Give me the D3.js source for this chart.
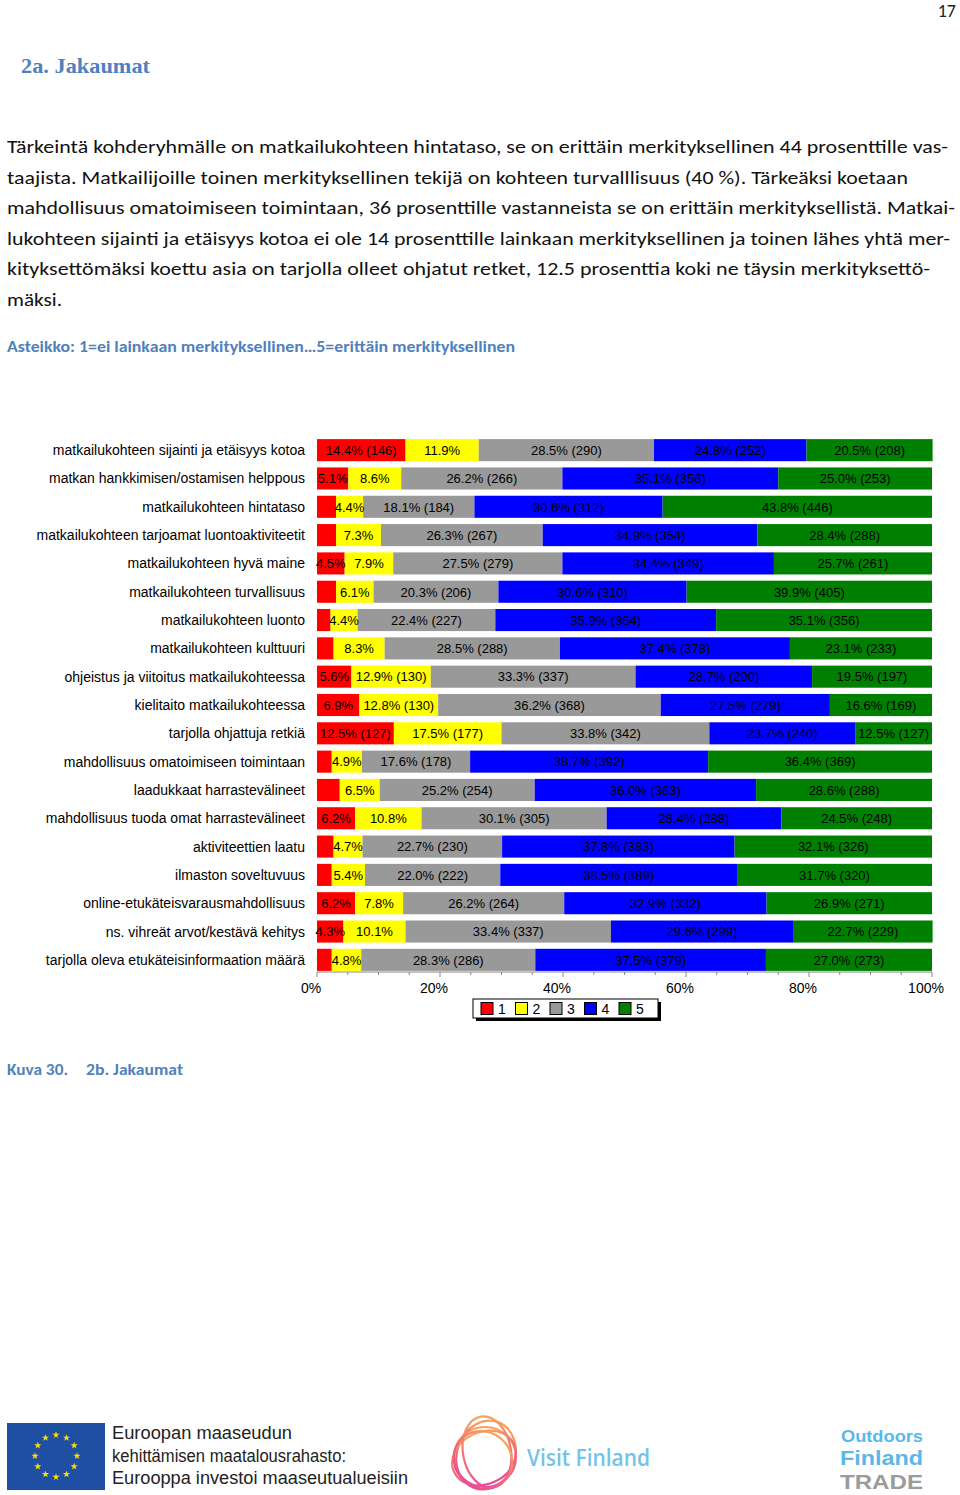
<!DOCTYPE html>
<html>
<head>
<meta charset="utf-8">
<script src="https://cdn.jsdelivr.net/npm/d3@7"></script>
<style>
  html, body { margin: 0; padding: 0; background: #fff; }
  svg { display: block; }
</style>
</head>
<body>
<svg id="page" width="960" height="1495"></svg>
<script>
// ---------------- DATA ----------------
const categories = [
  "matkailukohteen sijainti ja etäisyys kotoa",
  "matkan hankkimisen/ostamisen helppous",
  "matkailukohteen hintataso",
  "matkailukohteen tarjoamat luontoaktiviteetit",
  "matkailukohteen hyvä maine",
  "matkailukohteen turvallisuus",
  "matkailukohteen luonto",
  "matkailukohteen kulttuuri",
  "ohjeistus ja viitoitus matkailukohteessa",
  "kielitaito matkailukohteessa",
  "tarjolla ohjattuja retkiä",
  "mahdollisuus omatoimiseen toimintaan",
  "laadukkaat harrastevälineet",
  "mahdollisuus tuoda omat harrastevälineet",
  "aktiviteettien laatu",
  "ilmaston soveltuvuus",
  "online-etukäteisvarausmahdollisuus",
  "ns. vihreät arvot/kestävä kehitys",
  "tarjolla oleva etukäteisinformaation määrä"
];
const seriesNames = ["1", "2", "3", "4", "5"];
const pct1 = [14.4, 5.1, 3.1, 3.1, 4.5, 3.1, 2.2, 2.7, 5.6, 6.9, 12.5, 2.4, 3.7, 6.2, 2.7, 2.4, 6.2, 4.3, 2.4];
const pct2 = [11.9, 8.6, 4.4, 7.3, 7.9, 6.1, 4.4, 8.3, 12.9, 12.8, 17.5, 4.9, 6.5, 10.8, 4.7, 5.4, 7.8, 10.1, 4.8];
const pct3 = [28.5, 26.2, 18.1, 26.3, 27.5, 20.3, 22.4, 28.5, 33.3, 36.2, 33.8, 17.6, 25.2, 30.1, 22.7, 22.0, 26.2, 33.4, 28.3];
const pct4 = [24.8, 35.1, 30.6, 34.9, 34.4, 30.6, 35.9, 37.4, 28.7, 27.5, 23.7, 38.7, 36.0, 28.4, 37.8, 38.5, 32.9, 29.6, 37.5];
const pct5 = [20.5, 25.0, 43.8, 28.4, 25.7, 39.9, 35.1, 23.1, 19.5, 16.6, 12.5, 36.4, 28.6, 24.5, 32.1, 31.7, 26.9, 22.7, 27.0];
// counts shown in labels (null = not shown)
const cnt1 = [146, null, null, null, null, null, null, null, null, null, 127, null, null, null, null, null, null, null, null];
const cnt2 = [null, null, null, null, null, null, null, null, 130, 130, 177, null, null, null, null, null, null, null, null];
const cnt3 = [290, 266, 184, 267, 279, 206, 227, 288, 337, 368, 342, 178, 254, 305, 230, 222, 264, 337, 286];
const cnt4 = [252, 356, 312, 354, 349, 310, 364, 378, 290, 279, 240, 392, 363, 288, 383, 389, 332, 299, 379];
const cnt5 = [208, 253, 446, 288, 261, 405, 356, 233, 197, 169, 127, 369, 288, 248, 326, 320, 271, 229, 273];
const xTicks = [0, 20, 40, 60, 80, 100];
const colors = ["#ff0000", "#ffff00", "#999999", "#0000ff", "#008000"];

const paragraph = [
  "Tärkeintä kohderyhmälle on matkailukohteen hintataso, se on erittäin merkityksellinen 44 prosenttille vas-",
  "taajista. Matkailijoille toinen merkityksellinen tekijä on kohteen turvalllisuus (40 %). Tärkeäksi koetaan",
  "mahdollisuus omatoimiseen toimintaan, 36 prosenttille vastanneista se on erittäin merkityksellistä. Matkai-",
  "lukohteen sijainti ja etäisyys kotoa ei ole 14 prosenttille lainkaan merkityksellinen ja toinen lähes yhtä mer-",
  "kityksettömäksi koettu asia on tarjolla olleet ohjatut retket, 12.5 prosenttia koki ne täysin merkityksettö-",
  "mäksi."
];
const paraWidths = [941, 901, 948, 943, 923, 55];

// ---------------- DRAW ----------------
const svg = d3.select("#page");
const blue = "#4f81bd";

// page number
svg.append("text").attr("x", 956).attr("y", 17).attr("text-anchor", "end")
  .attr("font-family", "Carlito, Lato, sans-serif").attr("font-size", 18).attr("fill", "#222").text("17");

// heading
svg.append("text").attr("x", 21).attr("y", 73)
  .attr("font-family", "'Liberation Serif', serif").attr("font-weight", "bold")
  .attr("font-size", 21).attr("fill", blue)
  .attr("textLength", 129).attr("lengthAdjust", "spacingAndGlyphs").text("2a. Jakaumat");

// paragraph
svg.append("g").selectAll("text").data(paragraph).join("text")
  .attr("x", 7).attr("y", (d, i) => 153 + i * 30.5)
  .attr("font-family", "Carlito, Lato, sans-serif").attr("font-size", 19).attr("fill", "#111")
  .attr("textLength", (d, i) => paraWidths[i]).attr("lengthAdjust", "spacingAndGlyphs")
  .text(d => d);

svg.append("text").attr("x", 7).attr("y", 352)
  .attr("font-family", "Carlito, Lato, sans-serif").attr("font-weight", "bold")
  .attr("font-size", 15.5).attr("fill", blue)
  .attr("textLength", 508).attr("lengthAdjust", "spacingAndGlyphs")
  .text("Asteikko: 1=ei lainkaan merkityksellinen…5=erittäin merkityksellinen");

// chart
const pcts = [pct1, pct2, pct3, pct4, pct5];
const cnts = [cnt1, cnt2, cnt3, cnt4, cnt5];
const rows = categories.map((c, i) => {
  const r = { cat: c };
  seriesNames.forEach((s, k) => { r[s] = pcts[k][i]; });
  return r;
});
const stack = d3.stack().keys(seriesNames)(rows);

const x = d3.scaleLinear().domain([0, 100]).range([317, 932]);
const y = d3.scaleBand().domain(categories).range([436, 974]).paddingInner(0.22).paddingOuter(0.11);

const chart = svg.append("g");
stack.forEach((layer, k) => {
  const g = chart.append("g");
  g.selectAll("rect").data(layer).join("rect")
    .attr("x", d => x(d[0]))
    .attr("y", d => y(d.data.cat))
    .attr("width", d => x(d[1]) - x(d[0]))
    .attr("height", y.bandwidth())
    .attr("fill", colors[k]);
});
// labels
stack.forEach((layer, k) => {
  chart.append("g").selectAll("text").data(layer).join("text")
    .filter((d, i) => pcts[k][i] >= 4)
    .attr("x", d => (x(d[0]) + x(d[1])) / 2)
    .attr("y", d => y(d.data.cat) + y.bandwidth() / 2 + 4.8)
    .attr("text-anchor", "middle")
    .attr("font-family", "'Liberation Sans', Arial, sans-serif").attr("font-size", 13)
    .attr("fill", "#000")
    .text((d, i) => {
      const idx = categories.indexOf(d.data.cat);
      const p = pcts[k][idx].toFixed(1) + "%";
      const c = cnts[k][idx];
      return c == null ? p : p + " (" + c + ")";
    });
});

// category labels
chart.append("g").selectAll("text").data(categories).join("text")
  .attr("x", 305)
  .attr("y", d => y(d) + y.bandwidth() / 2 + 5)
  .attr("text-anchor", "end")
  .attr("font-family", "'Liberation Sans', Arial, sans-serif").attr("font-size", 14)
  .attr("fill", "#000")
  .text(d => d);

// axis
const axisY = 972;
const axisG = chart.append("g").attr("transform", `translate(0,${axisY})`);
axisG.append("line").attr("x1", x(0)).attr("x2", x(100)).attr("stroke", "#888").attr("stroke-width", 1);
axisG.selectAll("line.minor").data(d3.range(0, 101, 5)).join("line").attr("class", "minor")
  .attr("x1", d => x(d)).attr("x2", d => x(d))
  .attr("y1", 0).attr("y2", d => d % 20 === 0 ? 5 : 3)
  .attr("stroke", "#888").attr("stroke-width", 1);
axisG.selectAll("text").data(xTicks).join("text")
  .attr("x", d => x(d) - 6).attr("y", 21)
  .attr("text-anchor", "middle")
  .attr("font-family", "'Liberation Sans', Arial, sans-serif").attr("font-size", 14)
  .attr("fill", "#000")
  .text(d => d + "%");

// legend
const lg = svg.append("g").attr("transform", "translate(473,999)");
lg.append("rect").attr("x", 3).attr("y", 3).attr("width", 185).attr("height", 19).attr("fill", "#000");
lg.append("rect").attr("x", 0).attr("y", 0).attr("width", 185).attr("height", 19)
  .attr("fill", "#fff").attr("stroke", "#000").attr("stroke-width", 1);
seriesNames.forEach((s, k) => {
  const gx = 8 + k * 34.5;
  lg.append("rect").attr("x", gx).attr("y", 3.5).attr("width", 12).attr("height", 12)
    .attr("fill", colors[k]).attr("stroke", "#000").attr("stroke-width", 1);
  lg.append("text").attr("x", gx + 17).attr("y", 15)
    .attr("font-family", "'Liberation Sans', Arial, sans-serif").attr("font-size", 14)
    .attr("fill", "#000").text(s);
});

// caption
svg.append("text").attr("x", 7).attr("y", 1075)
  .attr("font-family", "Carlito, Lato, sans-serif").attr("font-weight", "bold")
  .attr("font-size", 15.5).attr("fill", blue)
  .attr("textLength", 61).attr("lengthAdjust", "spacingAndGlyphs").text("Kuva 30.");
svg.append("text").attr("x", 86).attr("y", 1075)
  .attr("font-family", "Carlito, Lato, sans-serif").attr("font-weight", "bold")
  .attr("font-size", 15.5).attr("fill", blue)
  .attr("textLength", 97).attr("lengthAdjust", "spacingAndGlyphs").text("2b. Jakaumat");

// ---------------- FOOTER LOGOS ----------------
// EU flag
const eu = svg.append("g");
eu.append("rect").attr("x", 7).attr("y", 1423).attr("width", 98).attr("height", 67).attr("fill", "#1f4fa3");
const star = d3.symbol().type(d3.symbolStar).size(16);
d3.range(12).forEach(i => {
  const a = i * Math.PI / 6;
  eu.append("path").attr("d", star)
    .attr("transform", `translate(${56 + 21 * Math.sin(a)},${1456 - 21 * Math.cos(a)})`)
    .attr("fill", "#ffdd00");
});
const euText = ["Euroopan maaseudun", "kehittämisen maatalousrahasto:", "Eurooppa investoi maaseutualueisiin"];
const euW = [180, 234, 296];
svg.append("g").selectAll("text").data(euText).join("text")
  .attr("x", 112).attr("y", (d, i) => 1439 + i * 22.5)
  .attr("font-family", "'Liberation Sans', Arial, sans-serif").attr("font-size", 17.5)
  .attr("fill", "#222")
  .attr("textLength", (d, i) => euW[i]).attr("lengthAdjust", "spacingAndGlyphs")
  .text(d => d);

// Visit Finland ring
const defs = svg.append("defs");
const grad = defs.append("linearGradient").attr("id", "vfgrad")
  .attr("x1", 0).attr("y1", 0).attr("x2", 0).attr("y2", 1);
grad.append("stop").attr("offset", "0%").attr("stop-color", "#f7a35c");
grad.append("stop").attr("offset", "55%").attr("stop-color", "#ee6f74");
grad.append("stop").attr("offset", "100%").attr("stop-color", "#e84c9b");
const vf = svg.append("g").attr("fill", "none").attr("stroke", "url(#vfgrad)").attr("stroke-width", 2.2);
const ellipses = [
  { cx: 485, cy: 1457, rx: 31, ry: 30, rot: 0 },
  { cx: 486, cy: 1455, rx: 29, ry: 35, rot: 20 },
  { cx: 484, cy: 1458, rx: 33, ry: 26, rot: -25 },
  { cx: 487, cy: 1452, rx: 24, ry: 36, rot: -10 },
  { cx: 483, cy: 1460, rx: 30, ry: 28, rot: 40 }
];
ellipses.forEach(e => {
  vf.append("ellipse").attr("cx", e.cx).attr("cy", e.cy).attr("rx", e.rx).attr("ry", e.ry)
    .attr("transform", `rotate(${e.rot},${e.cx},${e.cy})`);
});
svg.append("text").attr("x", 527).attr("y", 1466)
  .attr("font-family", "'Open Sans', sans-serif").attr("font-weight", "600")
  .attr("font-size", 24).attr("fill", "#74c3e8")
  .attr("textLength", 123).attr("lengthAdjust", "spacingAndGlyphs").text("Visit Finland");

// Outdoors Finland TRADE
svg.append("text").attr("x", 841).attr("y", 1442)
  .attr("font-family", "'Liberation Sans', Arial, sans-serif").attr("font-weight", "bold")
  .attr("font-size", 17).attr("fill", "#5ab8e8")
  .attr("textLength", 82).attr("lengthAdjust", "spacingAndGlyphs").text("Outdoors");
svg.append("text").attr("x", 840).attr("y", 1465)
  .attr("font-family", "'Liberation Sans', Arial, sans-serif").attr("font-weight", "bold")
  .attr("font-size", 21).attr("fill", "#5ab8e8")
  .attr("textLength", 83).attr("lengthAdjust", "spacingAndGlyphs").text("Finland");
svg.append("text").attr("x", 840).attr("y", 1489)
  .attr("font-family", "'Liberation Sans', Arial, sans-serif").attr("font-weight", "bold")
  .attr("font-size", 21).attr("fill", "#9b9b9b")
  .attr("textLength", 83).attr("lengthAdjust", "spacingAndGlyphs").text("TRADE");
</script>
</body>
</html>
